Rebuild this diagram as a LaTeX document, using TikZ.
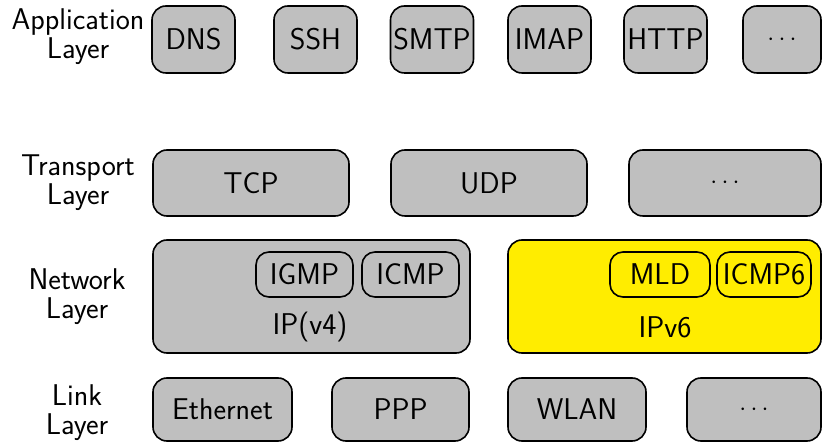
\documentclass[tikz,border=0pt]{standalone}
\definecolor{boxgray}{gray}{0.75}
\definecolor{ipsix}{RGB}{255,237,0}
\newcommand{\bigf}{\sffamily\fontsize{30}{29}\selectfont}
\begin{document}
\begin{tikzpicture}[x=1pt,y=-1pt,
  box/.style={draw=black, line width=1.6pt, rounded corners=14pt, fill=boxgray, inner sep=0pt, font=\bigf},
  ybox/.style={box, fill=ipsix},
  inbox/.style={draw=black, line width=1.6pt, rounded corners=13pt, inner sep=0pt, font=\bigf},
  lbl/.style={align=center, font=\bigf, inner sep=0pt},
  txt/.style={font=\bigf, inner sep=0pt}]
\useasboundingbox (0,0) rectangle (823,443);
% labels
\node[lbl] (la) at (78,37) {Application\\Layer};
\node[lbl] (lt) at (78,183) {Transport\\Layer};
\node[lbl] (ln) at (77,297) {Network\\Layer};
\node[lbl] (ll) at (77,413) {Link\\Layer};
% application
\node[box, minimum width=83pt, minimum height=67pt] (dns) at (193.5,39.5) {DNS};
\node[box, minimum width=83pt, minimum height=67pt] (ssh) at (315.5,39.5) {SSH};
\node[box, minimum width=83pt, minimum height=67pt] (smtp) at (432,39.5) {SMTP};
\node[box, minimum width=83pt, minimum height=67pt] (imap) at (549.5,39.5) {IMAP};
\node[box, minimum width=83pt, minimum height=67pt] (http) at (665.5,39.5) {HTTP};
\node[box, minimum width=78pt, minimum height=67pt] (appx) at (782,39.5) {$\cdots$};
% transport
\node[box, minimum width=196pt, minimum height=66pt] (tcp) at (251,183) {TCP};
\node[box, minimum width=196pt, minimum height=66pt] (udp) at (489,183) {UDP};
\node[box, minimum width=192pt, minimum height=66pt] (trx) at (725,183) {$\cdots$};
% network
\node[box, minimum width=317pt, minimum height=113pt] (ip4) at (311.5,296.5) {};
\node[ybox, minimum width=313pt, minimum height=113pt] (ip6) at (664.5,296.5) {};
\node[inbox, minimum width=97pt, minimum height=45pt] (igmp) at (304.5,274.5) {IGMP};
\node[inbox, minimum width=97pt, minimum height=45pt] (icmp) at (410.5,274.5) {ICMP};
\node[inbox, minimum width=100pt, minimum height=45pt] (mld) at (660,274.5) {MLD};
\node[inbox, minimum width=94pt, minimum height=45pt] (icmp6) at (764,274.5) {ICMP6};
\node[txt] (ip4t) at (310,327) {IP(v4)};
\node[txt] (ip6t) at (665,327) {IPv6};
% link
\node[box, minimum width=139pt, minimum height=63pt] (eth) at (222.5,409.5) {Ethernet};
\node[box, minimum width=137pt, minimum height=63pt] (ppp) at (400.5,409.5) {PPP};
\node[box, minimum width=138pt, minimum height=63pt] (wlan) at (577,409.5) {WLAN};
\node[box, minimum width=134pt, minimum height=63pt] (lkx) at (754,409.5) {$\cdots$};
\end{tikzpicture}
\end{document}
